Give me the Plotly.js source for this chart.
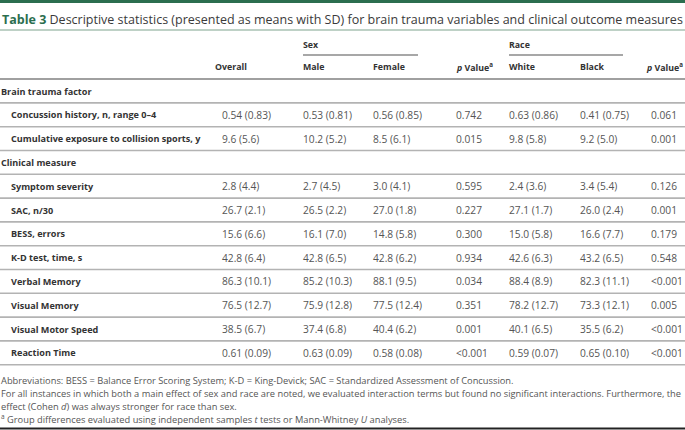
<!DOCTYPE html>
<html><head><meta charset="utf-8">
<script src="https://cdn.plot.ly/plotly-3.0.1.min.js"></script>
<style>html,body{margin:0;padding:0;background:#fff;}#chart{width:685px;height:430px;}</style>
</head><body><div id="chart"></div>
<script>
// ---- data ----
const tableNumber = "Table 3";
const tableTitle = "Descriptive statistics (presented as means with SD) for brain trauma variables and clinical outcome measures";
const groupHeaders = ["Sex", "Race"];
const columnHeaders = ["Overall", "Male", "Female", "<i>p</i> Value<sup>a</sup>", "White", "Black", "<i>p</i> Value<sup>a</sup>"];
const sectionTitles = ["Brain trauma factor", "Clinical measure"];
const traumaVariables = ["Concussion history, n, range 0–4", "Cumulative exposure to collision sports, y"];
const clinicalVariables = ["Symptom severity", "SAC, n/30", "BESS, errors", "K-D test, time, s", "Verbal Memory", "Visual Memory", "Visual Motor Speed", "Reaction Time"];
const overall = ["0.54 (0.83)", "9.6 (5.6)", "2.8 (4.4)", "26.7 (2.1)", "15.6 (6.6)", "42.8 (6.4)", "86.3 (10.1)", "76.5 (12.7)", "38.5 (6.7)", "0.61 (0.09)"];
const male = ["0.53 (0.81)", "10.2 (5.2)", "2.7 (4.5)", "26.5 (2.2)", "16.1 (7.0)", "42.8 (6.5)", "85.2 (10.3)", "75.9 (12.8)", "37.4 (6.8)", "0.63 (0.09)"];
const female = ["0.56 (0.85)", "8.5 (6.1)", "3.0 (4.1)", "27.0 (1.8)", "14.8 (5.8)", "42.8 (6.2)", "88.1 (9.5)", "77.5 (12.4)", "40.4 (6.2)", "0.58 (0.08)"];
const pSex = ["0.742", "0.015", "0.595", "0.227", "0.300", "0.934", "0.034", "0.351", "0.001", "<0.001"];
const white = ["0.63 (0.86)", "9.8 (5.8)", "2.4 (3.6)", "27.1 (1.7)", "15.0 (5.8)", "42.6 (6.3)", "88.4 (8.9)", "78.2 (12.7)", "40.1 (6.5)", "0.59 (0.07)"];
const black = ["0.41 (0.75)", "9.2 (5.0)", "3.4 (5.4)", "26.0 (2.4)", "16.6 (7.7)", "43.2 (6.5)", "82.3 (11.1)", "73.3 (12.1)", "35.5 (6.2)", "0.65 (0.10)"];
const pRace = ["0.061", "0.001", "0.126", "0.001", "0.179", "0.548", "<0.001", "0.005", "<0.001", "<0.001"];
const footnotes = [
  "Abbreviations: BESS = Balance Error Scoring System; K-D = King-Devick; SAC = Standardized Assessment of Concussion.",
  "For all instances in which both a main effect of sex and race are noted, we evaluated interaction terms but found no significant interactions. Furthermore, the",
  "effect (Cohen <i>d</i>) was always stronger for race than sex.",
  "<sup>a</sup> Group differences evaluated using independent samples <i>t</i> tests or Mann-Whitney <i>U</i> analyses."
];

// ---- layout constants ----
const W = 685, H = 430;
const FONT = "Open Sans, Noto Sans, sans-serif";
const GREEN = "#2b6e4f";
const colX = [215, 303, 373, 456, 509, 580, 651];
const headerShift = [0, 0, 0, 0, 0, 0, -5];
const groupSpan = [[303, 418], [509, 623]];
const firstRowY = 91, rowH = 23.8;
const labelX = 1, indentX = 11;

const annotations = [];
const shapes = [];
function txt(x, y, text, size, color, weight) {
  annotations.push({xref: 'x', yref: 'y', x: x, y: y, text: text, showarrow: false,
    xanchor: 'left', yanchor: 'middle', borderpad: 0, borderwidth: 0,
    font: {family: FONT, size: size, color: color, weight: weight || 400}});
}
function hline(x0, x1, y, color, w) {
  shapes.push({type: 'line', xref: 'x', yref: 'y', x0: x0, x1: x1, y0: y, y1: y, line: {color: color, width: w}});
}

// top bar
shapes.push({type: 'rect', xref: 'x', yref: 'y', x0: 0, x1: W, y0: 0, y1: 3, fillcolor: GREEN, line: {width: 0}});
// title
txt(2, 19, '<span style="color:' + GREEN + ';font-weight:700">' + tableNumber + '</span> ' + tableTitle, 12.5, "#3a3a3a");
hline(0, W, 30, "#a9c2b3", 1.5);
// group headers
groupHeaders.forEach((g, i) => {
  txt(groupSpan[i][0], 45, g, 8.8, "#333", 700);
  hline(groupSpan[i][0], groupSpan[i][1], 55, "#8a8a8a", 1.5);
});
columnHeaders.forEach((h, i) => txt(colX[i] + headerShift[i], 67, h, 8.8, "#333", 700));
hline(0, W, 79, "#a0a0a0", 2);

// rows
const rows = [];
rows.push({section: sectionTitles[0]});
traumaVariables.forEach(v => rows.push({label: v}));
rows.push({section: sectionTitles[1]});
clinicalVariables.forEach(v => rows.push({label: v}));
const cols = [overall, male, female, pSex, white, black, pRace];
let k = 0;
rows.forEach((r, i) => {
  const y = firstRowY + i * rowH;
  if (r.section) {
    txt(labelX, y, r.section, 9.1, "#333", 700);
  } else {
    txt(indentX, y, r.label, 9.1, "#333", 700);
    cols.forEach((c, j) => txt(colX[j] + (j === 0 ? 7 : 0), y, c[k].replace('<', '&lt;'), 10.2, "#555"));
    k++;
  }
  hline(0, W, y + rowH / 2, "#b3b3b3", 1.6);
});

// footnotes
footnotes.forEach((f, i) => txt(1, 380 + i * 13, f, 9.3, "#555"));
hline(0, W, 428.5, "#222", 2);

const layout = {
  width: W, height: H, margin: {l: 0, r: 0, t: 0, b: 0},
  paper_bgcolor: "#fff", plot_bgcolor: "#fff", showlegend: false,
  xaxis: {range: [0, W], visible: false, fixedrange: true},
  yaxis: {range: [H, 0], visible: false, fixedrange: true},
  annotations: annotations, shapes: shapes
};
Plotly.newPlot('chart', [{x: [], y: [], type: 'scatter', mode: 'markers', hoverinfo: 'skip'}], layout, {staticPlot: true});
</script></body></html>
